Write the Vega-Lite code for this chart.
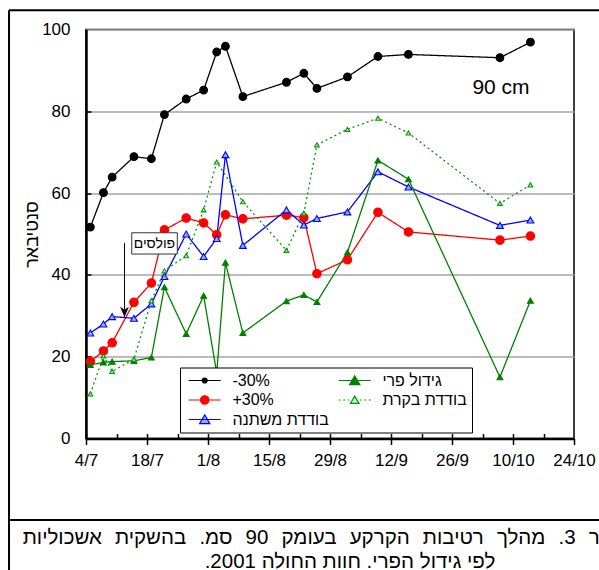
{
  "$schema": "https://vega.github.io/schema/vega-lite/v6.json",
  "width": 488,
  "height": 409,
  "autosize": {"type": "none"},
  "padding": {"left": 86, "top": 29.5, "right": 25, "bottom": 131.5},
  "background": "#ffffff",
  "config": {
    "font": "Liberation Sans",
    "view": {"stroke": "#000000", "strokeWidth": 1.5},
    "axis": {"labelFont": "Liberation Sans", "titleFont": "Liberation Sans", "labelColor": "#000000", "titleColor": "#000000"}
  },
  "datasets": {
    "soil": [
      {"series": "-30%", "date": "2001-07-05", "value": 51.7},
      {"series": "-30%", "date": "2001-07-08", "value": 60.1},
      {"series": "-30%", "date": "2001-07-10", "value": 63.9},
      {"series": "-30%", "date": "2001-07-15", "value": 68.9},
      {"series": "-30%", "date": "2001-07-19", "value": 68.4},
      {"series": "-30%", "date": "2001-07-22", "value": 79.2},
      {"series": "-30%", "date": "2001-07-27", "value": 83.0},
      {"series": "-30%", "date": "2001-07-31", "value": 85.2},
      {"series": "-30%", "date": "2001-08-03", "value": 94.5},
      {"series": "-30%", "date": "2001-08-05", "value": 95.9},
      {"series": "-30%", "date": "2001-08-09", "value": 83.6},
      {"series": "-30%", "date": "2001-08-19", "value": 87.1},
      {"series": "-30%", "date": "2001-08-23", "value": 89.3},
      {"series": "-30%", "date": "2001-08-26", "value": 85.6},
      {"series": "-30%", "date": "2001-09-02", "value": 88.4},
      {"series": "-30%", "date": "2001-09-09", "value": 93.4},
      {"series": "-30%", "date": "2001-09-16", "value": 93.9},
      {"series": "-30%", "date": "2001-10-07", "value": 93.1},
      {"series": "-30%", "date": "2001-10-14", "value": 96.9},

      {"series": "+30%", "date": "2001-07-05", "value": 18.8},
      {"series": "+30%", "date": "2001-07-08", "value": 21.4},
      {"series": "+30%", "date": "2001-07-10", "value": 23.4},
      {"series": "+30%", "date": "2001-07-15", "value": 33.3},
      {"series": "+30%", "date": "2001-07-19", "value": 38.0},
      {"series": "+30%", "date": "2001-07-22", "value": 51.0},
      {"series": "+30%", "date": "2001-07-27", "value": 53.9},
      {"series": "+30%", "date": "2001-07-31", "value": 52.7},
      {"series": "+30%", "date": "2001-08-03", "value": 49.8},
      {"series": "+30%", "date": "2001-08-05", "value": 54.7},
      {"series": "+30%", "date": "2001-08-09", "value": 53.7},
      {"series": "+30%", "date": "2001-08-19", "value": 54.6},
      {"series": "+30%", "date": "2001-08-23", "value": 54.0},
      {"series": "+30%", "date": "2001-08-26", "value": 40.3},
      {"series": "+30%", "date": "2001-09-02", "value": 43.7},
      {"series": "+30%", "date": "2001-09-09", "value": 55.3},
      {"series": "+30%", "date": "2001-09-16", "value": 50.5},
      {"series": "+30%", "date": "2001-10-07", "value": 48.5},
      {"series": "+30%", "date": "2001-10-14", "value": 49.5},

      {"series": "בודדת משתנה", "date": "2001-07-05", "value": 25.8},
      {"series": "בודדת משתנה", "date": "2001-07-08", "value": 28.0},
      {"series": "בודדת משתנה", "date": "2001-07-10", "value": 29.8},
      {"series": "בודדת משתנה", "date": "2001-07-15", "value": 29.4},
      {"series": "בודדת משתנה", "date": "2001-07-19", "value": 32.9},
      {"series": "בודדת משתנה", "date": "2001-07-22", "value": 39.6},
      {"series": "בודדת משתנה", "date": "2001-07-27", "value": 50.0},
      {"series": "בודדת משתנה", "date": "2001-07-31", "value": 44.5},
      {"series": "בודדת משתנה", "date": "2001-08-03", "value": 48.9},
      {"series": "בודדת משתנה", "date": "2001-08-05", "value": 69.4},
      {"series": "בודדת משתנה", "date": "2001-08-09", "value": 47.2},
      {"series": "בודדת משתנה", "date": "2001-08-19", "value": 55.9},
      {"series": "בודדת משתנה", "date": "2001-08-23", "value": 52.2},
      {"series": "בודדת משתנה", "date": "2001-08-26", "value": 53.8},
      {"series": "בודדת משתנה", "date": "2001-09-02", "value": 55.4},
      {"series": "בודדת משתנה", "date": "2001-09-09", "value": 65.2},
      {"series": "בודדת משתנה", "date": "2001-09-16", "value": 61.5},
      {"series": "בודדת משתנה", "date": "2001-10-07", "value": 52.1},
      {"series": "בודדת משתנה", "date": "2001-10-14", "value": 53.4},

      {"series": "גידול פרי", "date": "2001-07-05", "value": 18.0},
      {"series": "גידול פרי", "date": "2001-07-08", "value": 18.6},
      {"series": "גידול פרי", "date": "2001-07-10", "value": 18.8},
      {"series": "גידול פרי", "date": "2001-07-15", "value": 19.0},
      {"series": "גידול פרי", "date": "2001-07-19", "value": 19.8},
      {"series": "גידול פרי", "date": "2001-07-22", "value": 37.0},
      {"series": "גידול פרי", "date": "2001-07-27", "value": 25.6},
      {"series": "גידול פרי", "date": "2001-07-31", "value": 34.9},
      {"series": "גידול פרי", "date": "2001-08-03", "value": 16.0},
      {"series": "גידול פרי", "date": "2001-08-05", "value": 43.0},
      {"series": "גידול פרי", "date": "2001-08-09", "value": 25.8},
      {"series": "גידול פרי", "date": "2001-08-19", "value": 33.6},
      {"series": "גידול פרי", "date": "2001-08-23", "value": 35.1},
      {"series": "גידול פרי", "date": "2001-08-26", "value": 33.4},
      {"series": "גידול פרי", "date": "2001-09-02", "value": 45.5},
      {"series": "גידול פרי", "date": "2001-09-09", "value": 68.0},
      {"series": "גידול פרי", "date": "2001-09-16", "value": 63.4},
      {"series": "גידול פרי", "date": "2001-10-07", "value": 15.0},
      {"series": "גידול פרי", "date": "2001-10-14", "value": 33.7},

      {"series": "בודדת בקרת", "date": "2001-07-05", "value": 10.9},
      {"series": "בודדת בקרת", "date": "2001-07-08", "value": 20.2},
      {"series": "בודדת בקרת", "date": "2001-07-10", "value": 16.4},
      {"series": "בודדת בקרת", "date": "2001-07-15", "value": 19.4},
      {"series": "בודדת בקרת", "date": "2001-07-19", "value": 33.7},
      {"series": "בודדת בקרת", "date": "2001-07-22", "value": 41.0},
      {"series": "בודדת בקרת", "date": "2001-07-27", "value": 44.7},
      {"series": "בודדת בקרת", "date": "2001-07-31", "value": 55.9},
      {"series": "בודדת בקרת", "date": "2001-08-03", "value": 67.6},
      {"series": "בודדת בקרת", "date": "2001-08-09", "value": 57.9},
      {"series": "בודדת בקרת", "date": "2001-08-19", "value": 46.0},
      {"series": "בודדת בקרת", "date": "2001-08-23", "value": 55.1},
      {"series": "בודדת בקרת", "date": "2001-08-26", "value": 71.8},
      {"series": "בודדת בקרת", "date": "2001-09-02", "value": 75.6},
      {"series": "בודדת בקרת", "date": "2001-09-09", "value": 78.3},
      {"series": "בודדת בקרת", "date": "2001-09-16", "value": 74.7},
      {"series": "בודדת בקרת", "date": "2001-10-07", "value": 57.5},
      {"series": "בודדת בקרת", "date": "2001-10-14", "value": 62.0}
    ]
  },
  "resolve": {"axis": {"x": "independent", "y": "independent"}},
  "layer": [
    {
      "description": "page frame: top edge",
      "data": {"values": [{}]},
      "mark": {"type": "rule", "color": "#000000", "strokeWidth": 2},
      "encoding": {
        "x": {"datum": {"year": 2001, "month": 6, "date": 16, "hours": 8, "utc": true}, "type": "temporal", "axis": null},
        "x2": {"datum": {"year": 2001, "month": 11, "date": 20, "utc": true}},
        "y": {"datum": 104.7, "type": "quantitative", "axis": null}
      }
    },
    {
      "description": "page frame: rule above the caption",
      "data": {"values": [{}]},
      "mark": {"type": "rule", "color": "#000000", "strokeWidth": 2},
      "encoding": {
        "x": {"datum": {"year": 2001, "month": 6, "date": 16, "hours": 8, "utc": true}, "type": "temporal", "axis": null},
        "x2": {"datum": {"year": 2001, "month": 11, "date": 20, "utc": true}},
        "y": {"datum": -19.9, "type": "quantitative", "axis": null}
      }
    },
    {
      "description": "page frame: left edge",
      "data": {"values": [{}]},
      "mark": {"type": "rule", "color": "#000000", "strokeWidth": 2},
      "encoding": {
        "x": {"datum": {"year": 2001, "month": 6, "date": 16, "hours": 8, "utc": true}, "type": "temporal", "axis": null},
        "y": {"datum": 104.7, "type": "quantitative", "axis": null},
        "y2": {"datum": -40}
      }
    },
    {
      "data": {"name": "soil"},
      "mark": {"type": "line", "strokeWidth": 1.3},
      "encoding": {
        "x": {
          "field": "date", "type": "temporal",
          "scale": {"type": "utc", "domain": [{"year": 2001, "month": 7, "date": 4, "utc": true}, {"year": 2001, "month": 10, "date": 24, "utc": true}]},
          "axis": {
            "title": null, "orient": "bottom", "grid": false,
            "values": [
              {"year": 2001, "month": 7, "date": 4, "utc": true},
              {"year": 2001, "month": 7, "date": 18, "utc": true},
              {"year": 2001, "month": 8, "date": 1, "utc": true},
              {"year": 2001, "month": 8, "date": 15, "utc": true},
              {"year": 2001, "month": 8, "date": 29, "utc": true},
              {"year": 2001, "month": 9, "date": 12, "utc": true},
              {"year": 2001, "month": 9, "date": 26, "utc": true},
              {"year": 2001, "month": 10, "date": 10, "utc": true},
              {"year": 2001, "month": 10, "date": 24, "utc": true}
            ],
            "labelExpr": "utcFormat(datum.value, '%-d/%-m')",
            "labelFontSize": 17, "labelPadding": 8, "labelFlush": false, "labelOverlap": false,
            "tickSize": 6, "tickWidth": 1.5, "tickColor": "#000000",
            "domainColor": "#000000", "domainWidth": 2.5
          }
        },
        "y": {
          "field": "value", "type": "quantitative",
          "scale": {"domain": [0, 100], "nice": false, "zero": true},
          "axis": {
            "title": "סנטיבאר", "titleFontSize": 18, "titleFontWeight": "normal",
            "titleAngle": 270, "titleX": -54, "titleY": 204.5, "titleAlign": "center", "titleBaseline": "middle",
            "values": [0, 20, 40, 60, 80, 100],
            "labelFontSize": 17, "labelPadding": 16, "ticks": false,
            "domainColor": "#000000", "domainWidth": 2.5,
            "grid": true, "gridColor": "#a6a6a6", "gridWidth": 1.5
          }
        },
        "color": {
          "field": "series", "type": "nominal",
          "scale": {
            "domain": ["-30%", "+30%", "בודדת משתנה", "גידול פרי", "בודדת בקרת"],
            "range": ["#000000", "#ff0000", "#0000ff", "#008000", "#009900"]
          },
          "legend": {
            "title": null, "orient": "none", "legendX": 94, "legendY": 338,
            "columns": 2, "gridAlign": "each", "columnPadding": 6, "rowPadding": 3.5,
            "padding": 5, "strokeColor": "#000000", "fillColor": "#ffffff", "cornerRadius": 0,
            "symbolSize": 144, "symbolOffset": 11.7, "labelOffset": 19.7,
            "symbolStrokeWidth": 1.2, "symbolDash": [],
            "labelFont": "Liberation Sans", "labelFontSize": 16, "labelColor": "#000000", "labelLimit": 200,
            "encode": {
              "symbols": {
                "update": {
                  "shape": {"signal": "datum.value === '-30%' ? 'M-2.67,0H2.67M-0.42,0A0.42,0.42 0 1,0 0.42,0A0.42,0.42 0 1,0 -0.42,0Z' : datum.value === '+30%' ? 'M-2.67,0H2.67M-0.7,0A0.7,0.7 0 1,0 0.7,0A0.7,0.7 0 1,0 -0.7,0Z' : datum.value === 'בודדת בקרת' ? 'M-2.67,0H-2.34M-1.92,0H-1.59M-1.17,0H-0.9M0.9,0H1.17M1.59,0H1.92M2.34,0H2.67M0,-0.65L0.72,0.57L-0.72,0.57Z' : 'M-2.67,0H2.67M0,-0.78L0.85,0.68L-0.85,0.68Z'"},
                  "fill": {"signal": "scale('fill', datum.value)"},
                  "stroke": {"signal": "scale('stroke', datum.value)"},
                  "strokeWidth": {"value": 1.2},
                  "strokeDash": {"value": []},
                  "opacity": {"value": 1}
                }
              }
            }
          }
        },
        "strokeDash": {
          "field": "series", "type": "nominal",
          "scale": {
            "domain": ["בודדת בקרת", "-30%", "+30%", "בודדת משתנה", "גידול פרי"],
            "range": [[2, 3], [1, 0], [1, 0], [1, 0], [1, 0]]
          },
          "legend": null
        }
      }
    },
    {
      "data": {"name": "soil"},
      "mark": {"type": "point", "strokeWidth": 1.1, "opacity": 1},
      "encoding": {
        "x": {
          "field": "date", "type": "temporal",
          "axis": {
            "orient": "top", "offset": -409, "title": null, "labels": false, "domain": false, "grid": false,
            "values": [
              {"year": 2001, "month": 7, "date": 4, "utc": true},
              {"year": 2001, "month": 7, "date": 11, "utc": true},
              {"year": 2001, "month": 7, "date": 18, "utc": true},
              {"year": 2001, "month": 7, "date": 25, "utc": true},
              {"year": 2001, "month": 8, "date": 1, "utc": true},
              {"year": 2001, "month": 8, "date": 8, "utc": true},
              {"year": 2001, "month": 8, "date": 15, "utc": true},
              {"year": 2001, "month": 8, "date": 22, "utc": true},
              {"year": 2001, "month": 8, "date": 29, "utc": true},
              {"year": 2001, "month": 9, "date": 5, "utc": true},
              {"year": 2001, "month": 9, "date": 12, "utc": true},
              {"year": 2001, "month": 9, "date": 19, "utc": true},
              {"year": 2001, "month": 9, "date": 26, "utc": true},
              {"year": 2001, "month": 10, "date": 3, "utc": true},
              {"year": 2001, "month": 10, "date": 10, "utc": true},
              {"year": 2001, "month": 10, "date": 17, "utc": true}
            ],
            "tickSize": 5, "tickWidth": 1.5, "tickColor": "#000000"
          }
        },
        "y": {
          "field": "value", "type": "quantitative",
          "axis": {
            "orient": "right", "offset": -488, "title": null, "labels": false, "domain": false, "grid": false,
            "values": [20, 40, 60, 80],
            "tickSize": 5, "tickWidth": 1.5, "tickColor": "#000000"
          }
        },
        "shape": {
          "field": "series", "type": "nominal",
          "scale": {
            "domain": ["+30%", "-30%", "בודדת משתנה", "גידול פרי", "בודדת בקרת"],
            "range": ["circle", "circle", "triangle-up", "triangle-up", "triangle-up"]
          },
          "legend": null
        },
        "fill": {
          "field": "series", "type": "nominal",
          "scale": {
            "domain": ["+30%", "-30%", "בודדת משתנה", "גידול פרי", "בודדת בקרת"],
            "range": ["#ff0000", "#000000", "#8db4ff", "#008000", "#c4ecc4"]
          },
          "legend": null
        },
        "stroke": {
          "field": "series", "type": "nominal",
          "scale": {
            "domain": ["+30%", "-30%", "בודדת משתנה", "גידול פרי", "בודדת בקרת"],
            "range": ["#ff0000", "#000000", "#0000ff", "#008000", "#009900"]
          },
          "legend": null
        },
        "size": {
          "field": "series", "type": "nominal",
          "scale": {
            "domain": ["+30%", "-30%", "בודדת משתנה", "גידול פרי", "בודדת בקרת"],
            "range": [72, 22, 85, 85, 55]
          },
          "legend": null
        }
      }
    },
    {
      "description": "depth label",
      "data": {"values": [{}]},
      "mark": {"type": "text", "text": "90 cm", "fontSize": 21, "align": "center", "baseline": "middle", "color": "#000000"},
      "encoding": {
        "x": {"datum": {"year": 2001, "month": 10, "date": 7, "hours": 6, "utc": true}, "type": "temporal", "axis": null},
        "y": {"datum": 85.8, "type": "quantitative", "axis": null}
      }
    },
    {
      "description": "pulse note box",
      "data": {"values": [{}]},
      "mark": {"type": "rect", "fill": "#ffffff", "stroke": "#333333", "strokeWidth": 1},
      "encoding": {
        "x": {"datum": {"year": 2001, "month": 7, "date": 14, "hours": 12, "utc": true}, "type": "temporal", "axis": null},
        "x2": {"datum": {"year": 2001, "month": 7, "date": 24, "hours": 23, "utc": true}},
        "y": {"datum": 50.3, "type": "quantitative", "axis": null},
        "y2": {"datum": 45.1}
      }
    },
    {
      "description": "pulse note text",
      "data": {"values": [{}]},
      "mark": {"type": "text", "text": "פולסים", "fontSize": 14, "align": "center", "baseline": "middle", "color": "#000000"},
      "encoding": {
        "x": {"datum": {"year": 2001, "month": 7, "date": 19, "hours": 17, "utc": true}, "type": "temporal", "axis": null},
        "y": {"datum": 47.6, "type": "quantitative", "axis": null}
      }
    },
    {
      "description": "pulse arrow shaft",
      "data": {"values": [{}]},
      "mark": {"type": "rule", "color": "#000000", "strokeWidth": 1},
      "encoding": {
        "x": {"datum": {"year": 2001, "month": 7, "date": 12, "hours": 20, "utc": true}, "type": "temporal", "axis": null},
        "y": {"datum": 47.8, "type": "quantitative", "axis": null},
        "y2": {"datum": 31.5}
      }
    },
    {
      "description": "pulse arrow head",
      "data": {"values": [{}]},
      "mark": {"type": "point", "shape": "M0,1L-0.8,-0.9L0,-0.35L0.8,-0.9Z", "size": 121, "filled": true, "color": "#000000", "opacity": 1},
      "encoding": {
        "x": {"datum": {"year": 2001, "month": 7, "date": 12, "hours": 20, "utc": true}, "type": "temporal", "axis": null},
        "y": {"datum": 31.0, "type": "quantitative", "axis": null}
      }
    },
    {
      "description": "figure caption, first (justified) line",
      "data": {"values": [{}]},
      "mark": {"type": "text", "fontSize": 20.5, "align": "left", "baseline": "alphabetic", "color": "#000000"},
      "encoding": {
        "text": {"value": "איור\u00a0 \u200a3.\u00a0 \u200aמהלך\u00a0 \u200aרטיבות\u00a0 \u200aהקרקע\u00a0 \u200aבעומק\u00a0 \u200a90\u00a0 \u200aסמ.\u00a0 \u200aבהשקית\u00a0 \u200aאשכוליות"},
        "x": {"datum": {"year": 2001, "month": 6, "date": 19, "hours": 11, "utc": true}, "type": "temporal", "axis": null},
        "y": {"datum": -25.8, "type": "quantitative", "axis": null}
      }
    },
    {
      "description": "figure caption, second line",
      "data": {"values": [{}]},
      "mark": {"type": "text", "fontSize": 20.5, "align": "center", "baseline": "alphabetic", "color": "#000000"},
      "encoding": {
        "text": {"value": "לפי גידול הפרי. חוות החולה 2001.\u200f"},
        "x": {"datum": {"year": 2001, "month": 9, "date": 2, "hours": 14, "utc": true}, "type": "temporal", "axis": null},
        "y": {"datum": -31.6, "type": "quantitative", "axis": null}
      }
    }
  ]
}
